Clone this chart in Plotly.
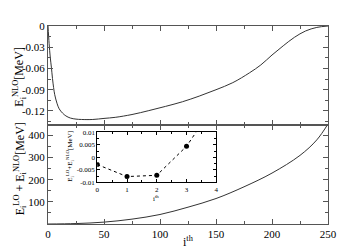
import plotly.graph_objects as go

# ---- data ----
i_top = [0, 1, 2, 3, 4, 5, 6, 8, 10, 13, 16, 20, 25, 30, 40, 50, 60, 75, 90, 105,
         120, 135, 150, 165, 180, 190, 200, 210, 220, 230, 240, 250]
e_nlo = [0, -0.025, -0.044, -0.058, -0.074, -0.087, -0.097, -0.109, -0.117, -0.123,
         -0.127, -0.130, -0.1315, -0.132, -0.132, -0.1305, -0.129, -0.125, -0.1195,
         -0.1135, -0.107, -0.099, -0.090, -0.080, -0.066, -0.055, -0.041, -0.028,
         -0.016, -0.007, -0.002, 0]

i_bot = [0, 25, 50, 75, 100, 125, 150, 175, 200, 225, 240, 250]
e_tot = [-0.003, 2, 8.5, 22, 43, 76, 115, 168, 230, 310, 380, 452]

i_in = [0, 1, 2, 3, 4]
e_in = [-0.00285, -0.00766, -0.00715, 0.00445, 0.022]

top_yticks = [0, -0.03, -0.06, -0.09, -0.12]
top_ylabels = ["0", "-0.03", "-0.06", "-0.09", "-0.12"]
bot_yticks = [100, 200, 300, 400]
bot_ylabels = ["100", "200", "300", "400"]
xticks = [0, 50, 100, 150, 200, 250]
xlabels = ["0", "50", "100", "150", "200", "250"]
in_xticks = [0, 1, 2, 3, 4]
in_xlabels = ["0", "1", "2", "3", "4"]
in_yticks = [-0.01, -0.005, 0, 0.005, 0.01]
in_ylabels = ["-0.01", "-0.005", "0", "0.005", "0.01"]

FONT = "Liberation Serif, Times New Roman, serif"
AX = "#555555"

fig = go.Figure()
fig.add_trace(go.Scatter(x=i_top, y=e_nlo, mode="lines", line=dict(color="#333", width=1),
                         xaxis="x2", yaxis="y2", line_shape="spline", showlegend=False))
fig.add_trace(go.Scatter(x=i_bot, y=e_tot, mode="lines", line=dict(color="#333", width=1),
                         xaxis="x", yaxis="y", line_shape="spline", showlegend=False))
fig.add_trace(go.Scatter(x=i_in, y=e_in, mode="lines+markers",
                         line=dict(color="black", width=1, dash="dot"),
                         marker=dict(color="black", size=5),
                         xaxis="x3", yaxis="y3", showlegend=False))

common = dict(showgrid=False, zeroline=False, showline=True, linecolor=AX, linewidth=1,
              ticks="inside", ticklen=5, tickcolor=AX, mirror="allticks",
              tickfont=dict(family=FONT, size=11, color="black"))

fig.update_layout(
    width=351, height=248,
    margin=dict(l=40, r=31, t=13, b=32),
    paper_bgcolor="white", plot_bgcolor="white",
    font=dict(family=FONT, color="black"),
    xaxis=dict(domain=[0, 1], range=[0, 250], anchor="y", tickvals=xticks, ticktext=xlabels,
               minor=dict(ticks="inside", ticklen=3, dtick=25, tickcolor=AX), **common),
    yaxis=dict(domain=[0, 0.4975], range=[0, 445], anchor="x", tickvals=bot_yticks,
               ticktext=bot_ylabels,
               minor=dict(ticks="inside", ticklen=3, tickvals=[50, 150, 250, 350], tickcolor=AX),
               **common),
    xaxis2=dict(domain=[0, 1], range=[0, 250], anchor="y2", tickvals=xticks,
                showticklabels=False,
                minor=dict(ticks="inside", ticklen=3, dtick=25, tickcolor=AX), **common),
    yaxis2=dict(domain=[0.4975, 1], range=[-0.1405, 0], anchor="x2", tickvals=top_yticks,
                ticktext=top_ylabels,
                minor=dict(ticks="inside", ticklen=3,
                           tickvals=[-0.015, -0.045, -0.075, -0.105, -0.135], tickcolor=AX),
                **common),
    xaxis3=dict(domain=[0.176, 0.601], range=[0, 4], anchor="y3", tickvals=in_xticks,
                ticktext=in_xlabels, showgrid=False, zeroline=False, showline=True,
                linecolor="black", linewidth=1, ticks="inside", ticklen=3, tickcolor="black",
                mirror="allticks", tickfont=dict(family=FONT, size=7, color="black"),
                minor=dict(ticks="inside", ticklen=2, dtick=0.5, tickcolor="black")),
    yaxis3=dict(domain=[0.210, 0.4626], range=[-0.01, 0.01], anchor="x3", tickvals=in_yticks,
                ticktext=in_ylabels, showgrid=False, zeroline=False, showline=True,
                linecolor="black", linewidth=1, ticks="inside", ticklen=3, tickcolor="black",
                mirror="allticks", tickfont=dict(family=FONT, size=7, color="black"),
                minor=dict(ticks="inside", ticklen=2, dtick=0.0025, tickcolor="black")),
)

ann = [
    dict(text="E<sub>i</sub><sup>NLO</sup>[MeV]", x=-0.10, y=0.744, textangle=-90, size=12),
    dict(text="E<sub>i</sub><sup>LO</sup> + E<sub>i</sub><sup>NLO</sup>[MeV]", x=-0.10, y=0.276,
         textangle=-90, size=12),
    dict(text="i<sup>th</sup>", x=0.5, y=-0.088, textangle=0, size=12),
    dict(text="E<sub>i</sub><sup>LO</sup>+E<sub>i</sub><sup>NLO</sup>[MeV]", x=0.079, y=0.34,
         textangle=-90, size=7),
    dict(text="i<sup>th</sup>", x=0.386, y=0.128, textangle=0, size=7),
]
for a in ann:
    fig.add_annotation(text=a["text"], x=a["x"], y=a["y"], xref="paper", yref="paper",
                       showarrow=False, textangle=a["textangle"], xanchor="center",
                       yanchor="middle", font=dict(family=FONT, size=a["size"], color="black"))

fig.write_html("out.html")
